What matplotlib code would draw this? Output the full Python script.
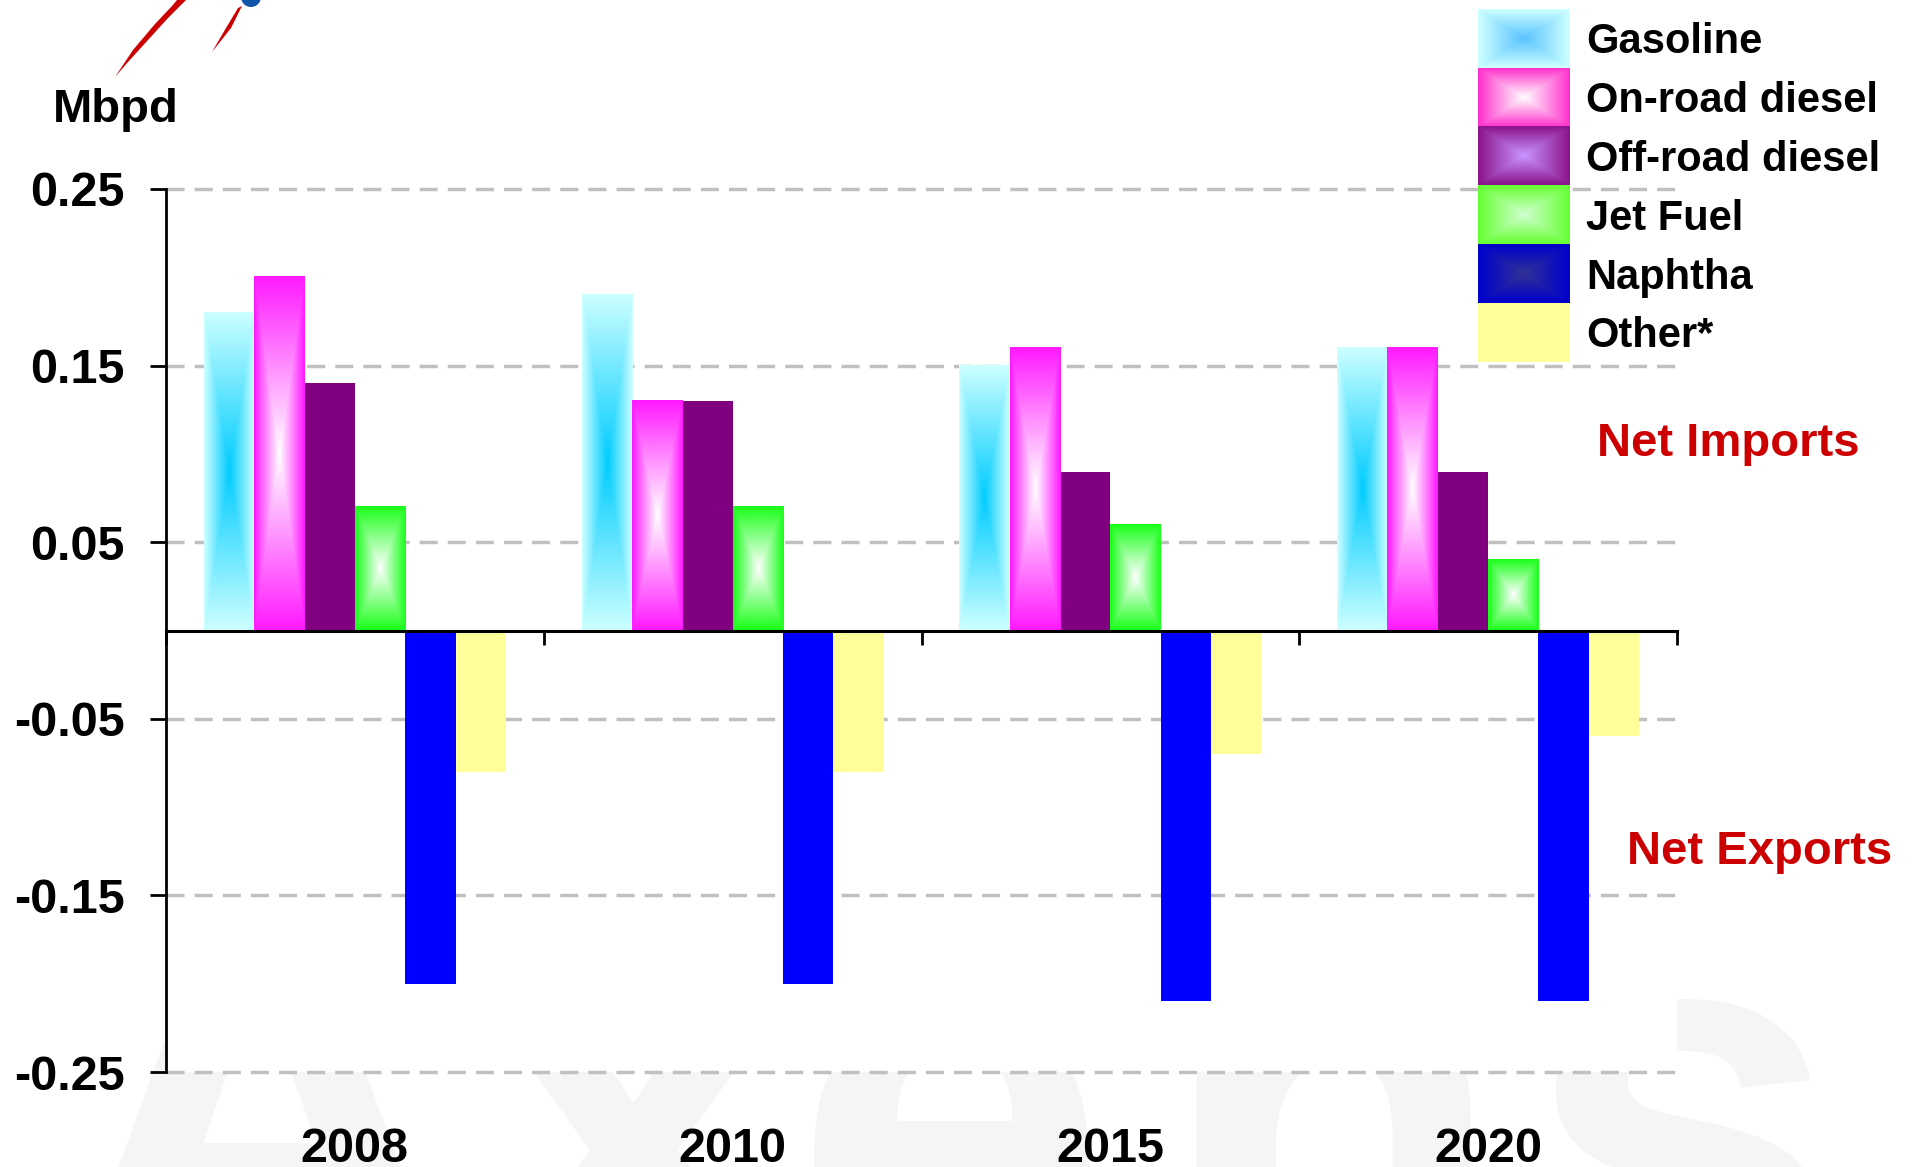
import numpy as np
import matplotlib.pyplot as plt
from matplotlib import transforms
from matplotlib.patches import Polygon, Circle

plt.rcParams['font.family'] = ['Liberation Sans', 'DejaVu Sans']
plt.rcParams['font.weight'] = 'bold'

# data (Mbpd, + = net imports, - = net exports)
years = ['2008', '2010', '2015', '2020']
series = ['Gasoline', 'On-road diesel', 'Off-road diesel', 'Jet Fuel', 'Naphtha', 'Other*']
gasoline = [0.18, 0.19, 0.15, 0.16]
onroad_diesel = [0.20, 0.13, 0.16, 0.16]
offroad_diesel = [0.14, 0.13, 0.09, 0.09]
jet_fuel = [0.07, 0.07, 0.06, 0.04]
naphtha = [-0.20, -0.20, -0.21, -0.21]
other = [-0.08, -0.08, -0.07, -0.06]
yticks = [0.25, 0.15, 0.05, -0.05, -0.15, -0.25]
ytick_labels = ['0.25', '0.15', '0.05', '-0.05', '-0.15', '-0.25']


def shade(edge, center, nx=60, ny=200):
    # rectangular "from centre" gradient like the PowerPoint fill
    u = np.abs(np.linspace(-1, 1, nx))[None, :]
    v = np.abs(np.linspace(-1, 1, ny))[:, None]
    t = np.maximum(u, v)[..., None]
    return (np.array(center) * (1 - t) + np.array(edge) * t) / 255.0


W, H = 1912, 1167
fig = plt.figure(figsize=(W / 100, H / 100), dpi=100)

# background layer: faint watermark, mostly hidden behind the plot area
bg = fig.add_axes([0, 0, 1, 1], zorder=0)
bg.set_xlim(0, W)
bg.set_ylim(H, 0)
bg.axis('off')
for ch, cx in zip('Axens', [259, 633, 950, 1331, 1682]):
    bg.text(cx, 1305, ch, fontsize=410, color='#f5f5f5', ha='center', va='baseline')

# main plot
ax = fig.add_axes([166 / W, 95 / H, (1677 - 166) / W, (1072 - 189) / H], zorder=1)
ax.set_facecolor('white')

values = [gasoline, onroad_diesel, offroad_diesel, jet_fuel, naphtha, other]
flat_colors = ['#ccffff', '#ff1aff', '#800080', '#1aff1a', '#0000ff', '#ffff99']
gradients = {0: ((204, 255, 255), (0, 204, 255)),
             1: ((255, 26, 255), (255, 255, 255)),
             3: ((26, 255, 26), (255, 255, 255))}

x = np.arange(len(years)) + 0.5
w = 1 / 7.5
for k, vals in enumerate(values):
    bars = ax.bar(x + (k - 2.5) * w, vals, w, color=flat_colors[k], linewidth=0, zorder=2)
    if k in gradients:
        img = shade(*gradients[k])
        for p in bars:
            x0, y0, h = p.get_x(), p.get_y(), p.get_height()
            ax.imshow(img, extent=[x0, x0 + p.get_width(), min(y0, y0 + h), max(y0, y0 + h)],
                      aspect='auto', interpolation='bilinear', zorder=2.1)

ax.set_xlim(0, 4)
ax.set_ylim(-0.25, 0.25)
ax.set_yticks(yticks)
ax.set_yticklabels(ytick_labels, fontsize=35, fontweight='bold')
ax.tick_params(axis='y', direction='out', length=11.5, width=2, pad=18)
ax.set_xticks([0, 1, 2, 3, 4])
ax.tick_params(axis='x', direction='out', length=10, width=2, labelbottom=False)
ax.spines['top'].set_visible(False)
ax.spines['right'].set_visible(False)
ax.spines['bottom'].set_position(('data', 0))
ax.spines['bottom'].set_linewidth(2.2)
ax.spines['bottom'].set_zorder(3)
ax.spines['left'].set_linewidth(2)
ax.set_axisbelow(True)
ax.yaxis.grid(True, color='#c0c0c0', linewidth=2.5, linestyle=(0, (5.2, 2.9)))
for gl in ax.get_ygridlines():
    gl.set_clip_on(False)

tr = transforms.blended_transform_factory(ax.transData, fig.transFigure)
for xi, yr in zip(x, years):
    fig.text(xi, (H - 1162) / H, yr, transform=tr, ha='center', va='baseline',
             fontsize=35, fontweight='bold')

# overlay: legend, labels, logo
ov = fig.add_axes([0, 0, 1, 1], zorder=3)
legend_cols = [((204, 255, 255), (90, 195, 255)),
               ((255, 51, 204), (255, 255, 255)),
               ((140, 20, 140), (200, 150, 255)),
               ((102, 255, 51), (210, 255, 210)),
               ((0, 0, 204), (50, 50, 150)),
               ((255, 255, 153), (255, 255, 153))]
row = 58.8
for k, name in enumerate(series):
    top = 9 + k * row
    ov.imshow(shade(*legend_cols[k], nx=60, ny=40), extent=[1478, 1570, top + row, top],
              aspect='auto', interpolation='bilinear')
    ov.text(1586, top + row / 2 + 15, name, fontsize=30, fontweight='bold',
            ha='left', va='baseline')

ov.text(116, 122, 'Mbpd', fontsize=34, fontweight='bold', ha='center', va='baseline')
ov.text(1597, 456, 'Net Imports', fontsize=34, fontweight='bold', color='#cc0000',
        ha='left', va='baseline')
ov.text(1627, 864, 'Net Exports', fontsize=34, fontweight='bold', color='#cc0000',
        ha='left', va='baseline')

ov.add_patch(Polygon([(115, 77), (133, 50), (155, 24), (172, 6), (177, 0), (186, 0),
                      (168, 18), (148, 40), (128, 62)], closed=True, color='#cc0000', lw=0))
ov.add_patch(Polygon([(212, 52), (226, 28), (238, 8), (242, 6), (231, 28)],
                     closed=True, color='#cc0000', lw=0))
ov.add_patch(Circle((251, -3), 10, color='#1155aa', lw=0))

ov.set_xlim(0, W)
ov.set_ylim(H, 0)
ov.axis('off')

fig.savefig('out.png', dpi=100, facecolor='white')
